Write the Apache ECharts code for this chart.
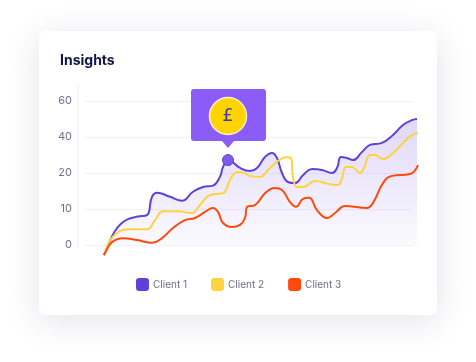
<!DOCTYPE html>
<html><head><meta charset="utf-8">
<style>html,body{margin:0;padding:0;background:#fff}#c{width:476px;height:362px}</style>
<script src="https://cdn.jsdelivr.net/npm/echarts@6/dist/echarts.min.js"></script>
</head><body><div id="c"></div>
<script>
const tickLabels = [0, 10, 20, 40, 60];
const seriesNames = ['Client 1', 'Client 2', 'Client 3'];
const client1X = [0,5,11,17,24,34,43,48,53,66,78,89,99,109,116,119,124,136,146,153,161,168,173,178,184,191,199,208,218,228,233,237,243,249,258,266,278,289,299,308,313];
const client1Y = [-2.8,0.6,3.9,5.9,7.2,7.9,8.3,13.4,14.5,13.4,12.3,14.8,16.1,16.5,19,23.3,27.2,22.8,21.1,22.8,28.9,31.1,28.3,20,17.5,17.2,19.4,22.2,21.7,20,22.8,28.9,28.3,27.2,31.7,35.6,36.7,41.1,46.7,49.4,50];
const client2X = [0,5,10,16,24,43,51,59,73,88,96,106,119,126,131,136,146,156,164,174,183,187,189,193,199,211,226,234,238,242,248,256,260,266,271,279,289,299,308,314];
const client2Y = [-2.8,0.8,2.6,3.9,4.4,4.4,6.9,9.4,9.4,8.9,11.1,13.9,14.4,18.1,20,20.6,19.2,18.9,21.7,26.7,28.9,28.3,18.9,16.1,16.1,17.8,16.9,16.7,18.6,23.3,23.3,20,22.8,30,30,27.8,31.1,36.7,41.1,42.2];
const client3X = [0,1,8,19,33,48,58,69,81,91,101,109,114,119,128,136,141,143,151,161,171,178,186,192,199,205,213,223,231,241,263,269,279,288,306,314];
const client3Y = [-2.8,-2.2,0.8,1.9,1.4,0.6,1.9,4.7,6.9,7.5,9.2,10.3,9.2,6.1,5,5.6,7.5,10.6,11.1,14.4,15.8,15.3,11.9,10.6,12.8,13.1,9.7,7.5,8.9,10.8,10.3,11.7,17.2,19.2,19.7,24.4];
const highlightX = 124, highlightY = 27.2;

// The printed scale is uneven: ticks are equally spaced but labelled 0,10,20,40,60.
function toAxis(v) {
  if (v <= tickLabels[1]) return v / tickLabels[1];
  for (let i = 1; i < tickLabels.length - 1; i++) {
    if (v <= tickLabels[i + 1]) return i + (v - tickLabels[i]) / (tickLabels[i + 1] - tickLabels[i]);
  }
  return tickLabels.length - 1;
}
const pairs = (xs, ys) => xs.map((x, i) => [x, toAxis(ys[i])]);

const FONT = 'Inter, "Noto Sans", sans-serif';
const colors = ['#6041d8', '#ffd33d', '#ff4a0c'];
const base = { type: 'line', smooth: 0.45, showSymbol: false, clip: false, silent: true, z: 3, xAxisIndex: 1, yAxisIndex: 1 };

const chart = echarts.init(document.getElementById('c'), null, { renderer: 'canvas' });
chart.setOption({
  animation: false,
  backgroundColor: '#ffffff',
  color: colors,
  grid: [
    { left: 84, right: 63, top: 101, bottom: 117 },
    { left: 84, right: 58, top: 101, bottom: 117 }
  ],
  xAxis: [
    { type: 'value', gridIndex: 0, min: -20, max: 309, show: false },
    { type: 'value', gridIndex: 1, min: -20, max: 314, show: false }
  ],
  yAxis: [
    {
      type: 'value', gridIndex: 0, min: 0, max: tickLabels.length - 1, interval: 1,
      axisLine: { show: false }, axisTick: { show: false },
      axisLabel: { margin: 12, color: '#70708f', fontSize: 11, fontFamily: FONT, formatter: v => String(tickLabels[v]) },
      splitLine: { lineStyle: { color: '#f1f1f6', width: 1 } }
    },
    { type: 'value', gridIndex: 1, min: 0, max: tickLabels.length - 1, interval: 1, show: false }
  ],
  legend: {
    left: 131, top: 273, itemWidth: 13, itemHeight: 13, itemGap: 24, icon: 'roundRect',
    textStyle: { color: '#6b6b8c', fontSize: 10, fontFamily: FONT, padding: [0, 0, 0, -1] },
    data: seriesNames
  },
  series: [
    Object.assign({}, base, {
      name: seriesNames[0], data: pairs(client1X, client1Y),
      lineStyle: { color: colors[0], width: 2 }, itemStyle: { color: colors[0] },
      areaStyle: { origin: 0, color: new echarts.graphic.LinearGradient(0, 0, 0, 1, [
        { offset: 0, color: 'rgba(124,92,232,0.34)' }, { offset: 1, color: 'rgba(124,92,232,0.02)' }]) },
      markPoint: { silent: true, symbol: 'circle', symbolSize: 11, label: { show: false },
        itemStyle: { color: '#7f5ce8', borderColor: '#6041d8', borderWidth: 1 },
        data: [{ coord: [highlightX, toAxis(highlightY)] }] }
    }),
    Object.assign({}, base, { name: seriesNames[1], data: pairs(client2X, client2Y),
      lineStyle: { color: colors[1], width: 2 }, itemStyle: { color: colors[1] } }),
    Object.assign({}, base, { name: seriesNames[2], data: pairs(client3X, client3Y),
      lineStyle: { color: colors[2], width: 2 }, itemStyle: { color: colors[2] } })
  ],
  graphic: [
    { type: 'rect', z: -10, silent: true, shape: { x: 39, y: 31, width: 398, height: 284, r: 6 },
      style: { fill: '#fff', shadowBlur: 34, shadowColor: 'rgba(40,30,90,0.13)', shadowOffsetY: 6 } },
    { type: 'rect', z: -9, silent: true, shape: { x: 77.5, y: 83, width: 1.5, height: 164 }, style: { fill: '#f3f3f7' } },
    { type: 'text', z: 5, silent: true, x: 60, y: 54, style: { text: 'Insights', fill: '#14154a', font: '700 14px ' + FONT } },
    { type: 'rect', z: 10, silent: true, shape: { x: 191, y: 89, width: 75, height: 52, r: 3 }, style: { fill: '#8b5cf6' } },
    { type: 'polygon', z: 10, silent: true, shape: { points: [[222, 141], [234, 141], [228, 148]] }, style: { fill: '#8b5cf6' } },
    { type: 'circle', z: 11, silent: true, shape: { cx: 228, cy: 116, r: 18.5 }, style: { fill: '#ffd400', stroke: '#fff3c4', lineWidth: 1.5 } },
    { type: 'text', z: 12, silent: true, x: 228, y: 116, style: { text: '£', fill: '#4a3aa8', font: '500 18px "DejaVu Sans", sans-serif', align: 'center', verticalAlign: 'middle' } }
  ]
});
</script></body></html>
